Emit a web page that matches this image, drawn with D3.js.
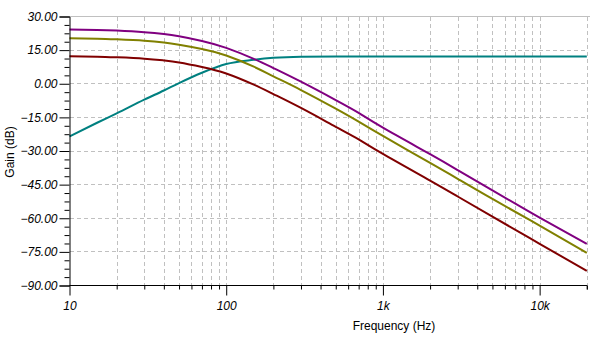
<!DOCTYPE html>
<html>
<head>
<meta charset="utf-8">
<script src="https://cdn.jsdelivr.net/npm/d3@7/dist/d3.min.js"></script>
<style>
  html, body { margin: 0; padding: 0; background: #ffffff; }
  svg { display: block; }
  text { font-family: "Liberation Sans", Arial, sans-serif; }
</style>
</head>
<body>
<svg id="chart" width="590" height="339"></svg>
<script>
// ---- data ----
const freqs = [10, 15, 20, 30, 40, 50, 70, 100, 150, 200, 300, 500, 700, 1000, 2000, 3000, 5000, 10000, 20000];
const purpleGain = [24.2, 24.0, 23.7, 23.0, 22.2, 21.2, 19.1, 16.0, 11.1, 7.0, 0.9, -7.3, -13.0, -19.6, -31.4, -38.5, -47.6, -59.7, -71.4];
const oliveGain  = [20.3, 20.1, 19.8, 19.2, 18.4, 17.4, 15.5, 12.6, 7.6, 3.3, -2.8, -11.1, -16.9, -23.3, -35.3, -42.4, -51.4, -63.3, -75.4];
const maroonGain = [12.3, 12.1, 11.8, 11.2, 10.4, 9.5, 7.5, 4.6, -0.4, -4.6, -10.8, -19.2, -24.8, -31.3, -43.2, -50.3, -59.3, -71.4, -83.5];
const tealGain   = [-23.5, -17.4, -13.2, -7.1, -3.0, 0.3, 4.9, 8.8, 10.7, 11.6, 12.1, 12.2, 12.2, 12.2, 12.2, 12.2, 12.2, 12.2, 12.2];
const seriesColors = ["#800080", "#808000", "#800000", "#008080"];
const yTickValues = [30, 15, 0, -15, -30, -45, -60, -75, -90];
const xTickValues = [10, 100, 1000, 10000];
const xTickLabels = ["10", "100", "1k", "10k"];
const xLabel = "Frequency (Hz)";
const yLabel = "Gain (dB)";

// ---- layout ----
const svg = d3.select("#chart");
const x = d3.scaleLog().domain([10, 20000]).range([69.5, 586.8]);
const y = d3.scaleLinear().domain([-90, 30]).range([285.5, 16.5]);

const gridColor = "#c0c0c0";

// minor frequency values
const minorX = [];
[10, 100, 1000, 10000].forEach(d => { for (let k = 2; k <= 9; k++) { const v = d * k; if (v <= 20000) minorX.push(v); } });
minorX.push(20000);
const allGridX = minorX.concat([100, 1000, 10000]);

// top border
svg.append("line").attr("x1", 69.5).attr("x2", 590).attr("y1", 16.5).attr("y2", 16.5)
  .attr("stroke", gridColor).attr("stroke-width", 1);

// vertical grid
svg.append("g").selectAll("line").data(allGridX).join("line")
  .attr("x1", d => Math.round(x(d)) + 0.5).attr("x2", d => Math.round(x(d)) + 0.5)
  .attr("y1", 17).attr("y2", 285)
  .attr("stroke", gridColor).attr("stroke-dasharray", "4,3");

// horizontal grid
svg.append("g").selectAll("line").data(yTickValues.filter(v => v > -90 && v < 30)).join("line")
  .attr("x1", 70).attr("x2", 587)
  .attr("y1", d => Math.round(y(d) - 0.5) + 0.5).attr("y2", d => Math.round(y(d) - 0.5) + 0.5)
  .attr("stroke", gridColor).attr("stroke-dasharray", "4,3");

// curves
const smoothGen = d3.line().x(d => x(d[0])).y(d => y(d[1])).curve(d3.curveNatural);
const monoGen = d3.line().x(d => x(d[0])).y(d => y(d[1])).curve(d3.curveMonotoneX);
const series = [
  { v: tealGain, c: seriesColors[3], g: monoGen },
  { v: purpleGain, c: seriesColors[0], g: smoothGen },
  { v: oliveGain, c: seriesColors[1], g: smoothGen },
  { v: maroonGain, c: seriesColors[2], g: smoothGen }
];
series.forEach(s => {
  svg.append("path")
    .datum(freqs.map((f, j) => [f, s.v[j]]))
    .attr("fill", "none")
    .attr("stroke", s.c)
    .attr("stroke-width", 2)
    .attr("d", s.g);
});

// y axis (major)
const yAxis = d3.axisLeft(y).tickValues(yTickValues).tickSize(10).tickPadding(2)
  .tickFormat(d => d3.format(".2f")(d));
const gy = svg.append("g").attr("transform", "translate(69.5,0)").call(yAxis);
gy.select(".domain").attr("stroke", "#000");
gy.selectAll(".tick line").attr("stroke", "#000");
gy.selectAll(".tick text").attr("font-size", 12).attr("font-style", "italic")
  .attr("font-family", "Liberation Sans, Arial, sans-serif").attr("fill", "#000");

// y minor ticks
const yMinor = d3.range(-90, 30.01, 3.75).filter(v => Math.abs(v % 15) > 0.01);
const gym = svg.append("g").attr("transform", "translate(69.5,0)")
  .call(d3.axisLeft(y).tickValues(yMinor).tickSize(5).tickFormat(""));
gym.select(".domain").remove();
gym.selectAll(".tick line").attr("stroke", "#000");

// x axis (major)
const xAxis = d3.axisBottom(x).tickValues(xTickValues).tickSize(10).tickPadding(6)
  .tickFormat((d, i) => xTickLabels[i]);
const gx = svg.append("g").attr("transform", "translate(0,285.5)").call(xAxis);
gx.select(".domain").attr("stroke", "#000").attr("d", "M69.5,0H587");
gx.selectAll(".tick line").attr("stroke", "#000");
gx.selectAll(".tick text").attr("font-size", 12).attr("font-style", "italic")
  .attr("font-family", "Liberation Sans, Arial, sans-serif").attr("fill", "#000");

// x minor ticks
const gxm = svg.append("g").attr("transform", "translate(0,285.5)")
  .call(d3.axisBottom(x).tickValues(minorX).tickSize(4).tickFormat(""));
gxm.select(".domain").remove();
gxm.selectAll(".tick line").attr("stroke", "#000");

// axis titles
svg.append("text").attr("x", 394).attr("y", 330).attr("text-anchor", "middle")
  .attr("font-size", 12).attr("fill", "#000").text(xLabel);
svg.append("text").attr("transform", "translate(14,152) rotate(-90)").attr("text-anchor", "middle")
  .attr("font-size", 12).attr("fill", "#000").text(yLabel);
</script>
</body>
</html>
